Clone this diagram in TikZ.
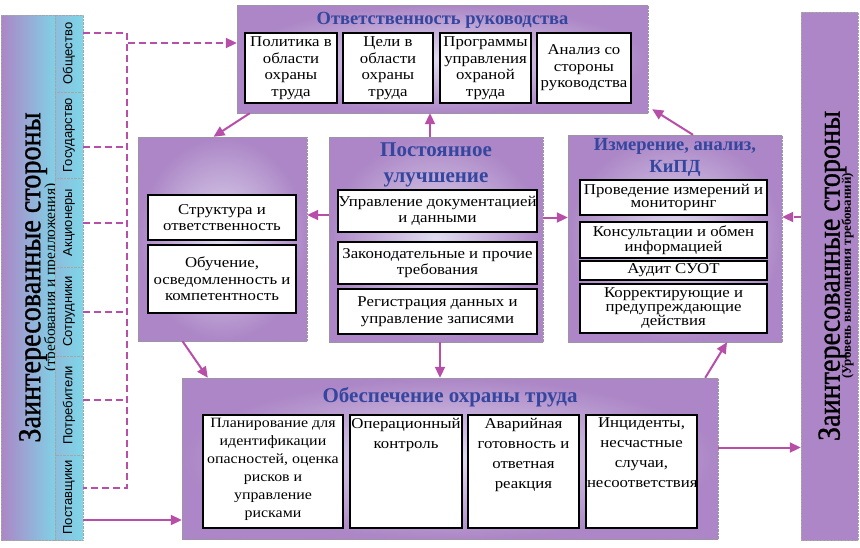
\documentclass[tikz,border=0pt]{standalone}
\usepackage{fontspec}
\setmainfont{Liberation Serif}
\setsansfont{Liberation Sans}
\newfontfamily\boxfont[FakeStretch=1.12]{Liberation Serif}
\newfontfamily\sidefont[FakeStretch=0.88,FakeBold=1]{Liberation Serif}
\usetikzlibrary{arrows.meta}
\definecolor{lilac}{RGB}{172,134,198}
\definecolor{lilacpale}{RGB}{224,220,240}
\definecolor{aqua}{RGB}{126,214,232}
\definecolor{aquapale}{RGB}{200,236,245}
\definecolor{plum}{RGB}{183,78,168}
\definecolor{navy}{RGB}{52,70,158}
\tikzset{
  block/.style={draw=gray!80, densely dotted, inner color=lilacpale, outer color=lilac, inner sep=0pt},
  frame/.style={draw=black, line width=1.4pt, fill=white, inner sep=0pt},
  item/.style={frame, align=center, font=\boxfont\fontsize{15}{16.5}\selectfont},
  tight/.style={item, font=\boxfont\fontsize{15}{13.5}\selectfont},
  head/.style={text=navy, align=center, font=\fontsize{18.5}{25}\selectfont\bfseries},
  bighead/.style={head, font=\fontsize{21}{26}\selectfont\bfseries},
  side/.style={draw=gray!70, densely dotted, inner sep=0pt},
  cell/.style={side, left color=aqua!70!lilac, right color=aqua, minimum width=28, font=\sffamily\fontsize{13}{14}\selectfont},
  arr/.style={plum, line width=2pt, -{Triangle[length=11pt,width=10pt]}},
  dline/.style={plum, line width=2pt, dash pattern=on 7pt off 4pt},
  darr/.style={dline, -{Triangle[length=11pt,width=10pt]}}
}
\begin{document}
\begin{tikzpicture}[x=1pt,y=-1pt]
\useasboundingbox[fill=white] (0,0) rectangle (860,547);
% interested parties, left
\node[side, left color=lilac, right color=aqua, minimum width=50, minimum height=525] (lside) at (30,277.5)
  {\rotatebox{90}{\begin{tabular}{@{}c@{}}{\sidefont\fontsize{32}{32}\selectfont\rule{0pt}{39pt}Заинтересованные стороны}\\[-3pt]
   {\fontsize{15.5}{15}\selectfont (требования и предложения)}\end{tabular}}};
\node[cell, minimum height=77] (soc) at (69,53.5) {\rotatebox{90}{Общество}};
\node[cell, minimum height=86] (gov) at (69,135) {\rotatebox{90}{Государство}};
\node[cell, minimum height=89] (share) at (69,222.5) {\rotatebox{90}{Акционеры}};
\node[cell, minimum height=89] (staff) at (69,311.5) {\rotatebox{90}{Сотрудники}};
\node[cell, minimum height=99] (cust) at (69,405.5) {\rotatebox{90}{Потребители}};
\node[cell, minimum height=85] (supp) at (69,497.5) {\rotatebox{90}{Поставщики}};
% interested parties, right
\node[side, left color=lilac, middle color=aquapale, right color=lilac, minimum width=57, minimum height=528] (rside) at (829.5,276)
  {\rotatebox{90}{\begin{tabular}{@{}c@{}}{\sidefont\fontsize{32}{32}\selectfont\rule{0pt}{35pt}Заинтересованные стороны}\\[-5pt]
   {\fontsize{13}{13}\selectfont\bfseries (Уровень выполнения требований)}\end{tabular}}};
% management responsibility
\node[block, minimum width=411, minimum height=108] (resp) at (442.5,59) {};
\node[head] (resphead) at (442.5,20) {Ответственность руководства};
\node[item, minimum width=92, minimum height=70] (pol) at (291,68) {Политика в\\области\\охраны\\труда};
\node[item, minimum width=90, minimum height=70] (goal) at (388,68) {Цели в\\области\\охраны\\труда};
\node[item, minimum width=91, minimum height=70] (prog) at (485.5,68) {Программы\\управления\\охраной\\труда};
\node[item, minimum width=94, minimum height=70] (rev) at (584,68) {Анализ со\\стороны\\руководства};
% structure
\node[block, minimum width=169, minimum height=204] (org) at (222.5,239) {};
\node[item, minimum width=148, minimum height=45] (struct) at (222,217.5) {Структура и\\ответственность};
\node[item, minimum width=148, minimum height=68] (train) at (222,279) {Обучение,\\осведомленность и\\компетентность};
% improvement
\node[block, minimum width=214, minimum height=205] (impr) at (436,239.5) {};
\node[bighead] (imprhead) at (436,165) {Постоянное\\улучшение};
\node[item, minimum width=199, minimum height=42] (docs) at (437.5,211) {Управление документацией\\и данными};
\node[item, minimum width=199, minimum height=42] (legal) at (437.5,263) {Законодательные и прочие\\требования};
\node[item, minimum width=199, minimum height=45] (recs) at (437.5,311.5) {Регистрация данных и\\управление записями};
% measurement
\node[block, minimum width=214, minimum height=207] (meas) at (675,238.5) {};
\node[head, font=\fontsize{18.5}{22}\selectfont\bfseries] (meashead) at (675,157) {Измерение, анализ,\\КиПД};
\node[tight, minimum width=187, minimum height=35] (mon) at (673.5,197.5) {Проведение измерений и\\мониторинг};
\node[tight, minimum width=187, minimum height=36] (cons) at (673.5,240) {Консультации и обмен\\информацией};
\node[tight, minimum width=187, minimum height=19] (audit) at (673.5,270.5) {Аудит СУОТ};
\node[tight, minimum width=187, minimum height=49] (corr) at (673.5,308.5) {Корректирующие и\\предупреждающие\\действия};
% safety provision
\node[block, minimum width=536, minimum height=161] (safe) at (450,458.5) {};
\node[bighead] (safehead) at (450,397) {Обеспечение охраны труда};
\node[frame, minimum width=140, minimum height=113] (plan) at (273,471.5)
  {\parbox[c][107pt][t]{140pt}{\centering\boxfont\fontsize{14.2}{18}\selectfont Планирование для\\идентификации\\опасностей, оценка\\рисков и\\управление\\рисками}};
\node[frame, minimum width=112, minimum height=113] (op) at (406,471.5)
  {\parbox[c][107pt][t]{110pt}{\centering\boxfont\fontsize{15}{20}\selectfont Операционный\\контроль}};
\node[frame, minimum width=111, minimum height=113] (emer) at (523.5,471.5)
  {\parbox[c][107pt][t]{109pt}{\centering\boxfont\fontsize{15}{20}\selectfont Аварийная\\готовность и\\ответная\\реакция}};
\node[frame, minimum width=111, minimum height=113] (inc) at (641.5,471.5)
  {\parbox[c][107pt][t]{109pt}{\centering\boxfont\fontsize{15}{20}\selectfont Инциденты,\\несчастные\\случаи,\\несоответствия}};
% inputs from the left
\coordinate (tb) at (127,488);
\draw[dline] ([yshift=20.5pt]soc.east) -| (tb) -- ([yshift=9.5pt]supp.east);
\draw[dline] ([yshift=-12pt]gov.east) -- ([yshift=-12pt]gov.east -| tb);
\draw[dline] (share.east) -- (share.east -| tb);
\draw[dline] (staff.east) -- (staff.east -| tb);
\draw[dline] ([yshift=5.5pt]cust.east) -- ([yshift=5.5pt]cust.east -| tb);
\draw[darr] ([yshift=20.5pt]soc.east -| tb) |- ([yshift=16pt]resp.west);
\draw[arr] ([yshift=-22.5pt]supp.east) -- ([yshift=-22.5pt]supp.east -| safe.west);
% cycle
\draw[arr] ([xshift=13pt]resp.south west) -- ([xshift=-9pt]org.north);
\draw[arr] ([xshift=-6pt]impr.north) -- ([xshift=-6pt]impr.north |- resp.south);
\draw[arr] ([xshift=18pt]meas.north) -- ([xshift=4pt,yshift=4pt]resp.south east);
\draw[arr] ([yshift=24.5pt]impr.west) -- ([yshift=24.5pt]impr.west -| org.east);
\draw[arr] ([yshift=22pt]impr.east) -- ([yshift=22pt]impr.east -| meas.west);
\draw[arr] ([xshift=-40pt]org.south) -- ([xshift=26pt]safe.north west);
\draw[arr] ([xshift=4pt]impr.south) -- ([xshift=4pt]impr.south |- safe.north);
\draw[arr] ([xshift=-13pt]safe.north east) -- ([xshift=52pt]meas.south);
% outputs to the right
\draw[darr] ([yshift=59pt]rside.west) -- ([yshift=59pt]rside.west -| meas.east);
\draw[arr] ([yshift=11pt]safe.east) -- ([yshift=11pt]safe.east -| rside.west);
\end{tikzpicture}
\end{document}
